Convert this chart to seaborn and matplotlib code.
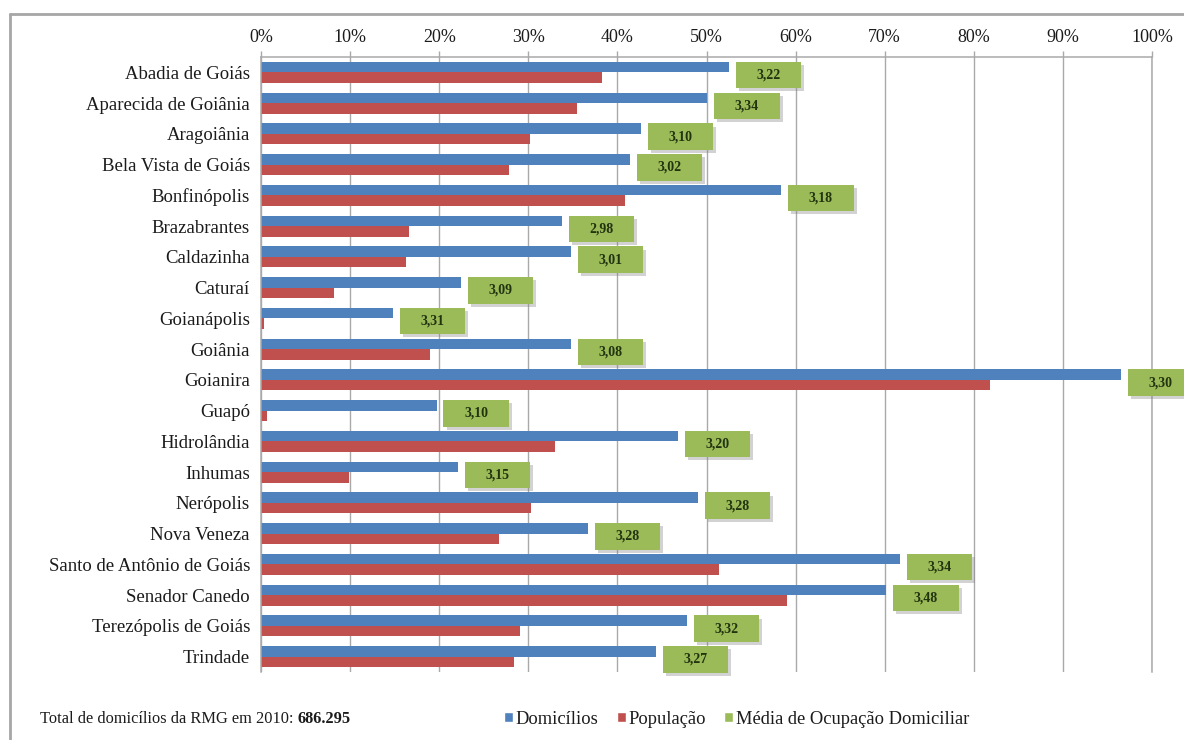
import matplotlib
matplotlib.use("Agg")
import matplotlib.pyplot as plt
import numpy as np
import pandas as pd
import seaborn as sns
from matplotlib.patches import Patch, Rectangle
from matplotlib.lines import Line2D
from matplotlib.offsetbox import DrawingArea, AnnotationBbox
from matplotlib.ticker import FixedLocator, FuncFormatter

# ---- data -------------------------------------------------------------
municipios = [
    "Abadia de Goiás", "Aparecida de Goiânia", "Aragoiânia", "Bela Vista de Goiás",
    "Bonfinópolis", "Brazabrantes", "Caldazinha", "Caturaí", "Goianápolis",
    "Goiânia", "Goianira", "Guapó", "Hidrolândia", "Inhumas", "Nerópolis",
    "Nova Veneza", "Santo de Antônio de Goiás", "Senador Canedo",
    "Terezópolis de Goiás", "Trindade",
]
domicilios = [52.5, 50.1, 42.6, 41.4, 58.4, 33.8, 34.8, 22.4, 14.8, 34.8,
              96.5, 19.7, 46.8, 22.1, 49.0, 36.7, 71.7, 70.2, 47.8, 44.3]
populacao = [38.3, 35.5, 30.2, 27.8, 40.8, 16.6, 16.3, 8.2, 0.3, 19.0,
             81.8, 0.7, 33.0, 9.9, 30.3, 26.7, 51.4, 59.0, 29.1, 28.4]
ocupacao = [3.22, 3.34, 3.10, 3.02, 3.18, 2.98, 3.01, 3.09, 3.31, 3.08,
            3.30, 3.10, 3.20, 3.15, 3.28, 3.28, 3.34, 3.48, 3.32, 3.27]
series = ["Domicílios", "População", "Média de Ocupação Domiciliar"]
x_ticks = [0, 10, 20, 30, 40, 50, 60, 70, 80, 90, 100]
total_rmg = "686.295"

# ---- style ------------------------------------------------------------
BLUE, RED, GREEN = "#4F81BD", "#C0504D", "#9BBB59"
GRID = "#A9A9A9"
TXT = "#1b1b1b"

sns.set_theme(style="white")
plt.rcParams["font.family"] = ["Liberation Serif", "DejaVu Serif"]
plt.rcParams["text.color"] = TXT
plt.rcParams["xtick.color"] = TXT
plt.rcParams["ytick.color"] = TXT

W_PX, H_PX = 1184, 740
fig = plt.figure(figsize=(W_PX / 100, H_PX / 100), dpi=100)
fig.patch.set_facecolor("white")

left, right, top, bottom = 261, 1152, 57, 672
ax = fig.add_axes([left / W_PX, 1 - bottom / H_PX,
                   (right - left) / W_PX, (bottom - top) / H_PX])

df = pd.DataFrame({
    "municipio": municipios * 2,
    "valor": domicilios + populacao,
    "serie": [series[0]] * len(municipios) + [series[1]] * len(municipios),
})

sns.barplot(data=df, y="municipio", x="valor", hue="serie", orient="h",
            palette=[BLUE, RED], width=0.68, dodge=True, saturation=1,
            linewidth=0, legend=False, ax=ax)

n = len(municipios)
ax.set_xlim(0, 100)
ax.set_ylim(n - 0.5, -0.5)
ax.set_xlabel("")
ax.set_ylabel("")

ax.xaxis.tick_top()
ax.xaxis.set_major_locator(FixedLocator(x_ticks))
ax.xaxis.set_major_formatter(FuncFormatter(lambda v, _: f"{v:.0f}%"))
ax.grid(axis="x", color=GRID, linewidth=1)
ax.grid(axis="y", visible=False)
ax.set_axisbelow(True)

ax.spines["bottom"].set_visible(False)
for side in ("top", "left", "right"):
    ax.spines[side].set_color(GRID)
    ax.spines[side].set_linewidth(1.1)

ax.tick_params(axis="x", top=True, bottom=False, length=4, width=1,
               color=GRID, pad=4, labelsize=13)
ax.tick_params(axis="y", left=False, right=False, length=0, pad=8,
               labelsize=13.5)

# ---- green value boxes for the average occupancy ----------------------
box_w, box_h, sh = 47, 19, 2.2
for i, (dom, occ) in enumerate(zip(domicilios, ocupacao)):
    da = DrawingArea(box_w + sh, box_h + sh, 0, 0)
    da.add_artist(Rectangle((sh, 0), box_w, box_h, facecolor="#7f7f7f",
                            alpha=0.35, linewidth=0))
    da.add_artist(Rectangle((0, sh), box_w, box_h, facecolor=GREEN,
                            linewidth=0))
    ab = AnnotationBbox(da, (dom, i + 0.14), xybox=(5, 0),
                        xycoords="data", boxcoords="offset points",
                        box_alignment=(0, 0.5), frameon=False, pad=0,
                        annotation_clip=False, zorder=4)
    ax.add_artist(ab)
    ax.annotate(f"{occ:.2f}".replace(".", ","), (dom, i + 0.14),
                xytext=(5 + box_w / 2, sh / 2), textcoords="offset points",
                ha="center", va="center", fontsize=10, fontweight="bold",
                color="#22330f", zorder=5, annotation_clip=False)

# ---- footer: total and legend -----------------------------------------
y_foot = 1 - 719 / H_PX
t1 = fig.text(40 / W_PX, y_foot, "Total de domicílios da RMG em 2010:",
              ha="left", va="center", fontsize=11.8)
ax.annotate(total_rmg, xy=(1, 0.5), xycoords=t1, xytext=(3, 0),
            textcoords="offset points", ha="left", va="center",
            fontsize=11.8, fontweight="bold", annotation_clip=False)

handles = [Patch(facecolor=BLUE, label=series[0]),
           Patch(facecolor=RED, label=series[1]),
           Patch(facecolor=GREEN, label=series[2])]
fig.legend(handles=handles, loc="center left",
           bbox_to_anchor=(504 / W_PX, y_foot), ncol=3, frameon=False,
           fontsize=13.3, handlelength=0.5, handleheight=0.5,
           handletextpad=0.12, columnspacing=1.0, borderpad=0,
           borderaxespad=0)

# ---- outer frame ------------------------------------------------------
fx, fy = 10 / W_PX, 1 - 14 / H_PX
fig.add_artist(Line2D([fx, 1.0], [fy, fy], transform=fig.transFigure,
                      color="#A6A6A6", linewidth=2))
fig.add_artist(Line2D([fx, fx], [0.0, fy], transform=fig.transFigure,
                      color="#A6A6A6", linewidth=2))

fig.savefig("out.png", dpi=100, facecolor="white")
